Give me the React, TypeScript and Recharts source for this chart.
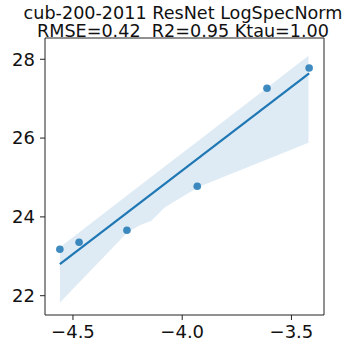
import React from 'react';
import { ComposedChart, XAxis, YAxis, Scatter, Line, Area, ReferenceLine } from 'recharts';

const xValues = [-4.56, -4.472, -4.253, -3.931, -3.612, -3.419];
const yValues = [23.18, 23.355, 23.66, 24.777, 27.264, 27.78];

const fitX = [-4.56, -3.419];
const fitY = [22.80, 27.645];

const bandX = [-4.5595, -4.2527, -4.1946, -4.141, -4.08, -4.0114, -3.92, -3.422];
const bandLow = [21.83, 23.60, 23.79, 23.90, 24.24, 24.47, 24.77, 25.88];
const bandHigh = [23.23, 24.54, 24.79, 25.02, 25.28, 25.57, 25.96, 28.09];

const xTicks = [-4.5, -4.0, -3.5];
const yTicks = [22, 24, 26, 28];

const titleLines = ['cub-200-2011 ResNet LogSpecNorm', 'RMSE=0.42  R2=0.95 Ktau=1.00'];

const xDomain: [number, number] = [-4.628, -3.351];
const yDomain: [number, number] = [21.51, 28.54];

const scatterData = xValues.map((x, i) => ({ x, y: yValues[i] }));
const fitData = fitX.map((x, i) => ({ x, fit: fitY[i] }));
const bandData = bandX.map((x, i) => ({ x, band: [bandLow[i], bandHigh[i]] }));

const FONT = '"DejaVu Sans", sans-serif';
const BLUE = '#1f77b4';
const AXIS = '#222';

const fmtX = (v: number) => (v < 0 ? '\u2212' : '') + Math.abs(v).toFixed(1);

const Dot = (props: any) => {
  const { cx, cy } = props;
  if (cx == null || cy == null) return null;
  return <circle cx={cx} cy={cy} r={3.8} fill={BLUE} fillOpacity={0.85} />;
};

export default function App() {
  return (
    <div style={{ position: 'absolute', left: 0, top: 0, width: 360, height: 360, background: '#fff', fontFamily: FONT }}>
      <div
        style={{
          position: 'absolute',
          left: 0,
          width: 366,
          top: 4,
          textAlign: 'center',
          fontSize: 17.6,
          lineHeight: '18px',
          whiteSpace: 'pre',
          color: '#111',
        }}
      >
        {titleLines.join('\n')}
      </div>
      <ComposedChart
        width={360}
        height={360}
        margin={{ top: 38, right: 36, bottom: 0, left: 0 }}
        style={{ position: 'absolute', left: 0, top: 0 }}
      >
        <XAxis
          dataKey="x"
          type="number"
          domain={xDomain}
          ticks={xTicks}
          tickFormatter={fmtX}
          allowDataOverflow
          height={45}
          tickSize={5}
          tickMargin={5}
          stroke={AXIS}
          tick={{ fill: '#111', fontSize: 18, fontFamily: FONT }}
        />
        <YAxis
          type="number"
          domain={yDomain}
          ticks={yTicks}
          allowDataOverflow
          width={45}
          tickSize={5}
          tickMargin={5}
          stroke={AXIS}
          tick={{ fill: '#111', fontSize: 18, fontFamily: FONT }}
        />
        <Area
          data={bandData}
          dataKey="band"
          type="linear"
          stroke="none"
          fill={BLUE}
          fillOpacity={0.15}
          isAnimationActive={false}
          dot={false}
          activeDot={false}
        />
        <Line
          data={fitData}
          dataKey="fit"
          type="linear"
          stroke={BLUE}
          strokeWidth={2.2}
          dot={false}
          activeDot={false}
          isAnimationActive={false}
        />
        <Scatter data={scatterData} dataKey="y" shape={<Dot />} isAnimationActive={false} />
        <ReferenceLine x={xDomain[1]} stroke={AXIS} strokeWidth={1} />
        <ReferenceLine y={yDomain[1]} stroke={AXIS} strokeWidth={1} />
      </ComposedChart>
    </div>
  );
}
